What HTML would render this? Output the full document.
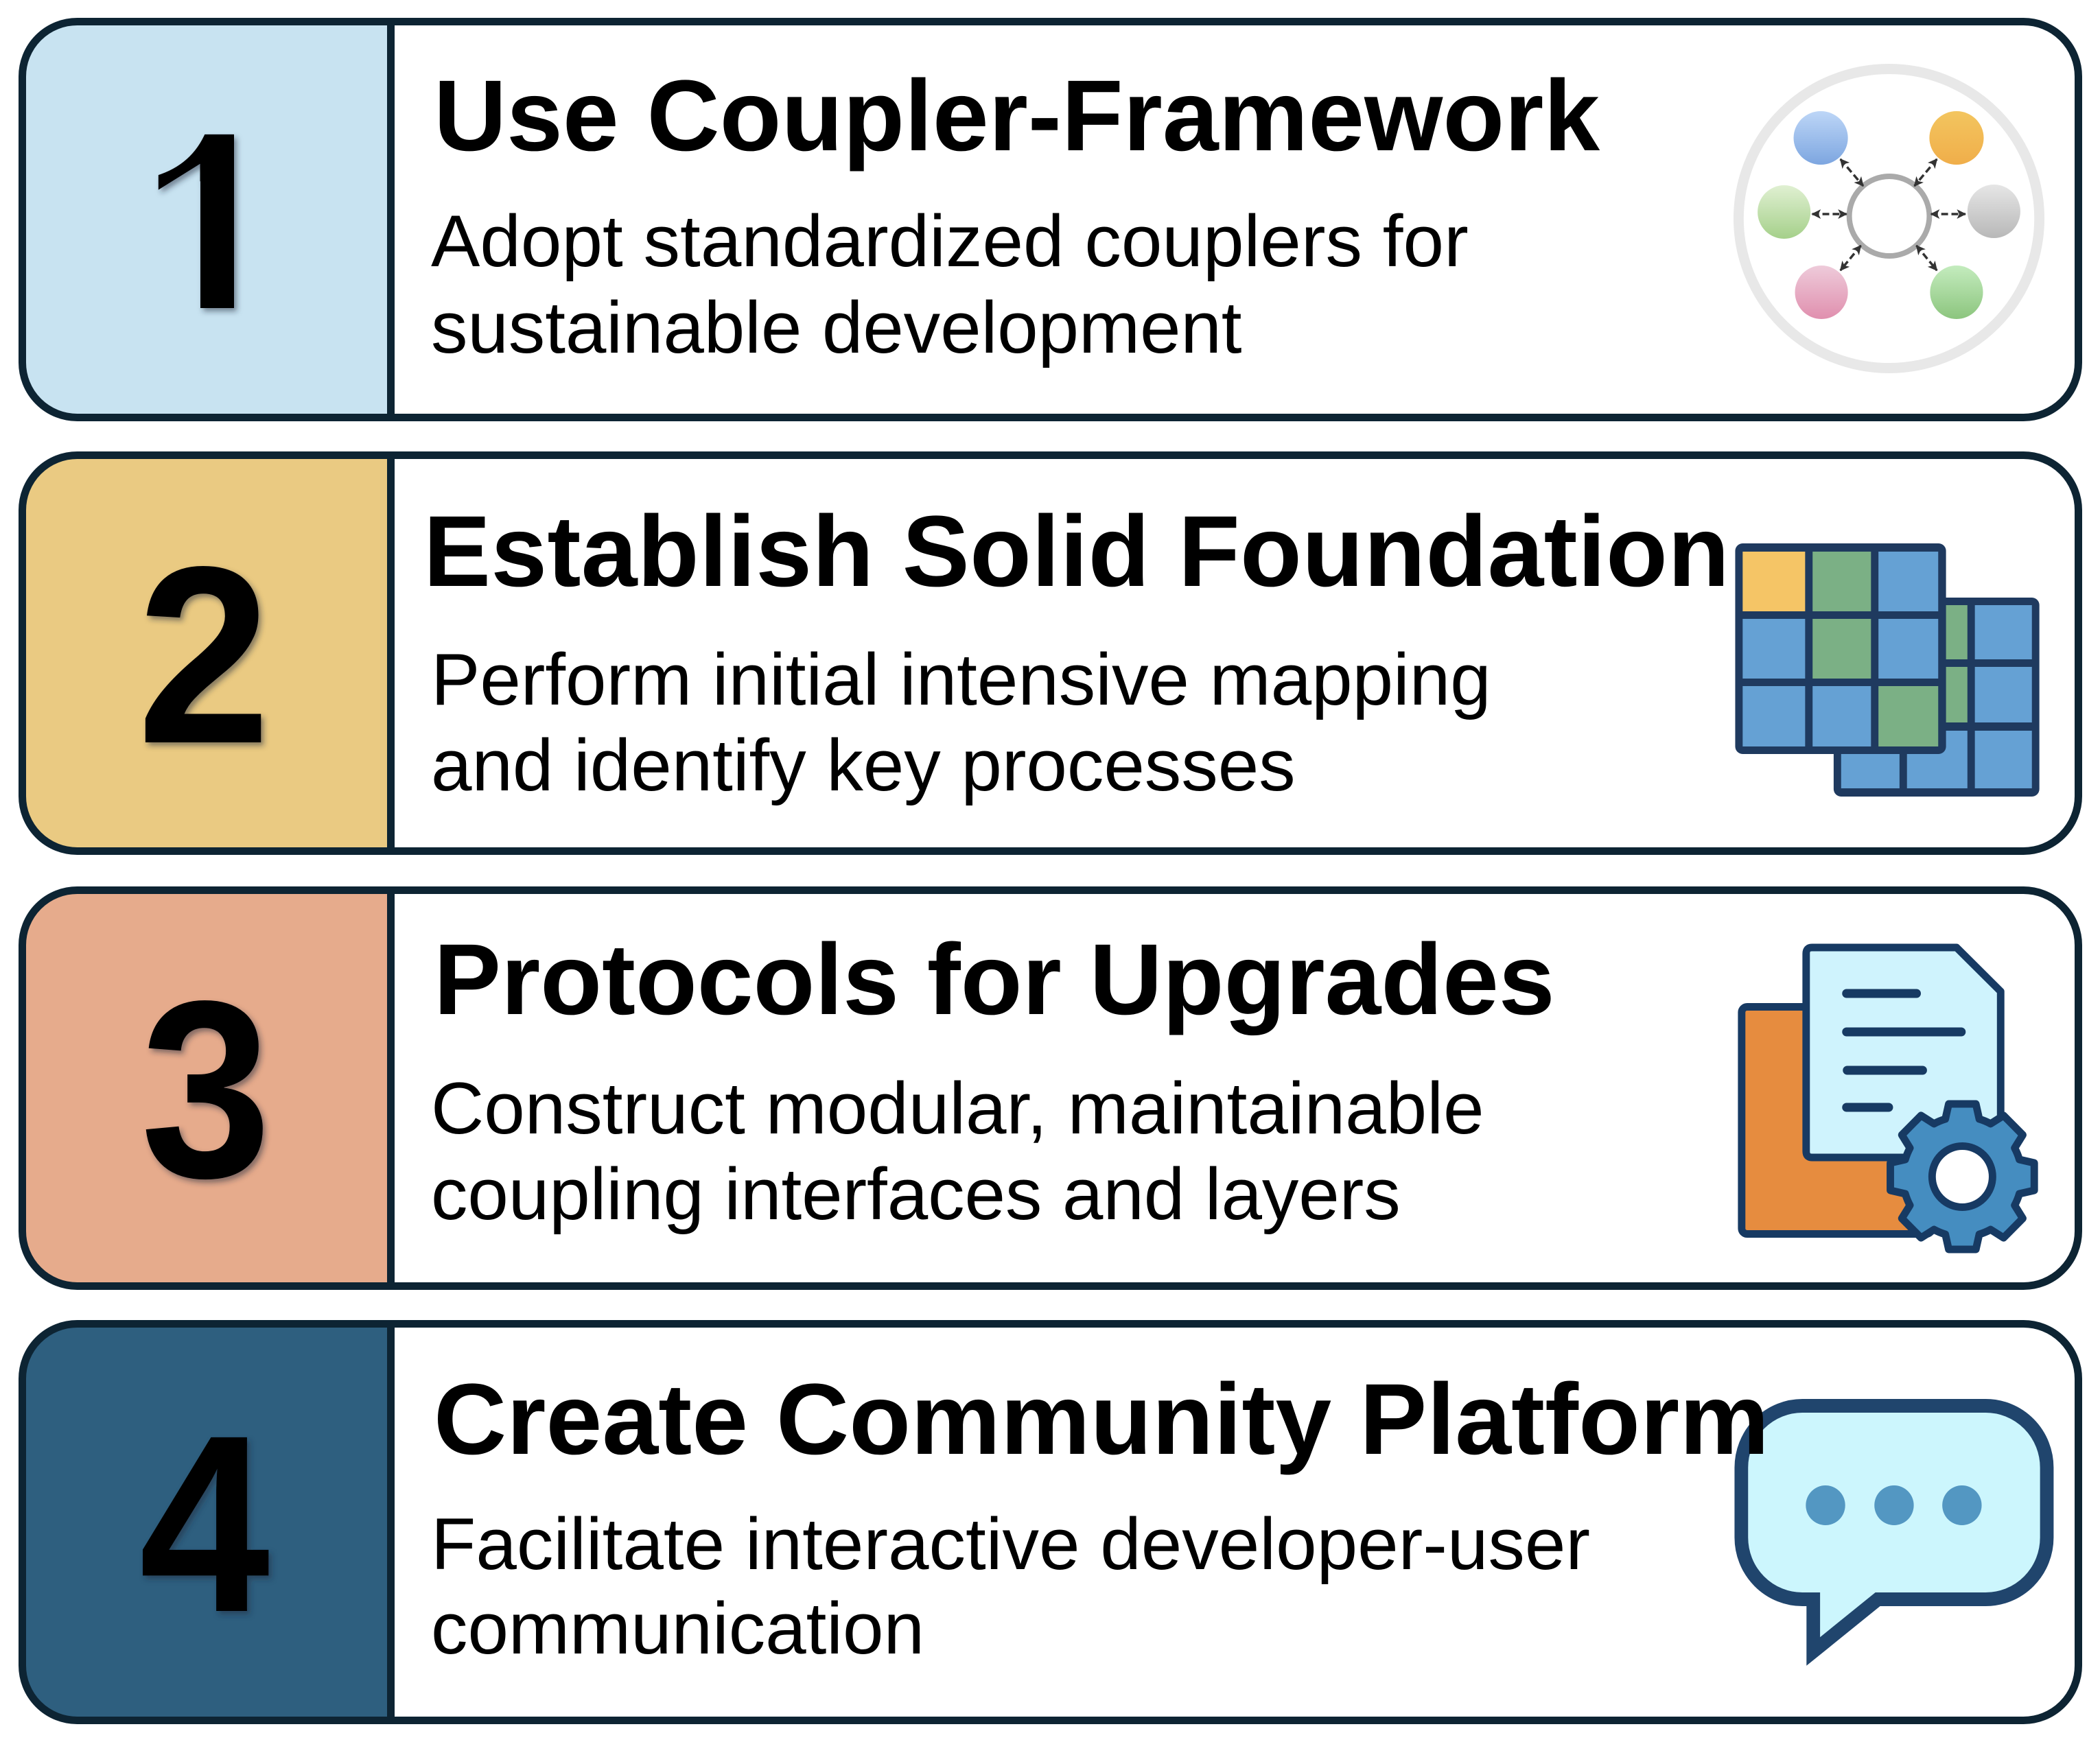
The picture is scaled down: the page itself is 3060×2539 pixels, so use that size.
<!DOCTYPE html>
<html><head><meta charset="utf-8">
<style>
html,body{margin:0;padding:0;background:#fff}
svg{display:block}
text{font-family:"Liberation Sans",Arial,sans-serif;fill:#000}
.t{font-weight:700;font-size:147px}
.d{font-size:107px}
.n{font-weight:700;font-size:368px;text-anchor:middle}
</style></head><body>
<svg width="3060" height="2539" viewBox="0 0 3060 2539" xmlns="http://www.w3.org/2000/svg">
<defs>
<filter id="sh" x="-30%" y="-30%" width="160%" height="160%"><feDropShadow dx="4" dy="5" stdDeviation="4" flood-color="#1a2a3a" flood-opacity=".5"/></filter>
<linearGradient id="g1" x1="0" y1="0" x2="0" y2="1"><stop offset="0" stop-color="#bdd6f7"/><stop offset="1" stop-color="#7da6e0"/></linearGradient>
<linearGradient id="g2" x1="0" y1="0" x2="0" y2="1"><stop offset="0" stop-color="#f3c55f"/><stop offset="1" stop-color="#f0ae4a"/></linearGradient>
<linearGradient id="g3" x1="0" y1="0" x2="0" y2="1"><stop offset="0" stop-color="#e0f0d2"/><stop offset="1" stop-color="#a5d08a"/></linearGradient>
<linearGradient id="g4" x1="0" y1="0" x2="0" y2="1"><stop offset="0" stop-color="#e6e6e6"/><stop offset="1" stop-color="#b8b8b8"/></linearGradient>
<linearGradient id="g5" x1="0" y1="0" x2="0" y2="1"><stop offset="0" stop-color="#eecbda"/><stop offset="1" stop-color="#e08fae"/></linearGradient>
<linearGradient id="g6" x1="0" y1="0" x2="0" y2="1"><stop offset="0" stop-color="#c4ecbe"/><stop offset="1" stop-color="#8cc57e"/></linearGradient>
<marker id="ah" viewBox="0 0 10 10" refX="9" refY="5" markerWidth="4" markerHeight="4" orient="auto-start-reverse" markerUnits="strokeWidth"><path d="M0 0L10 5L0 10L2.500 5Z" fill="#333"/></marker>
<clipPath id="c1"><path d="M341 192H300Q280 240 228 256V301Q270 290 292 264V449H341Z"/></clipPath>
</defs>

<!-- card panels -->
<path d="M569.500 31.500H112.500A80 80 0 0 0 32.500 111.500V528.500A80 80 0 0 0 112.500 608.500H569.500Z" fill="#c8e3f1"/>
<path d="M569.500 663.500H112.500A80 80 0 0 0 32.500 743.500V1160.500A80 80 0 0 0 112.500 1240.500H569.500Z" fill="#eaca82"/>
<path d="M569.500 1297.500H112.500A80 80 0 0 0 32.500 1377.500V1794.500A80 80 0 0 0 112.500 1874.500H569.500Z" fill="#e6ab8c"/>
<path d="M569.500 1929.500H112.500A80 80 0 0 0 32.500 2009.500V2427.500A80 80 0 0 0 112.500 2507.500H569.500Z" fill="#2e5f7f"/>
<g fill="none" stroke="#0d2433" stroke-width="11">
<rect x="32.500" y="31.500" width="2996" height="577" rx="80" ry="80"/>
<rect x="32.500" y="663.500" width="2996" height="577" rx="80" ry="80"/>
<rect x="32.500" y="1297.500" width="2996" height="577" rx="80" ry="80"/>
<rect x="32.500" y="1929.500" width="2996" height="578" rx="80" ry="80"/>
<path d="M569.500 31V609M569.500 663V1241M569.500 1297V1875M569.500 1929V2508"/>
</g>

<g transform="translate(26.500 0) scale(.9893 1)">
<!-- icon 1 -->
<ellipse cx="2755.500" cy="318.500" rx="221.500" ry="218" fill="#fff" stroke="#e8e8e8" stroke-width="15"/>
<ellipse cx="2756" cy="315" rx="59" ry="58" fill="#fff" stroke="#aaaaaa" stroke-width="8"/>
<ellipse cx="2655" cy="201" rx="40" ry="39" fill="url(#g1)"/>
<ellipse cx="2855" cy="201" rx="40" ry="39" fill="url(#g2)"/>
<ellipse cx="2601" cy="309" rx="39" ry="39" fill="url(#g3)"/>
<ellipse cx="2910" cy="308" rx="39" ry="39" fill="url(#g4)"/>
<ellipse cx="2656" cy="426" rx="39" ry="39" fill="url(#g5)"/>
<ellipse cx="2855" cy="426" rx="39" ry="39" fill="url(#g6)"/>
<g stroke="#333" stroke-width="3.500" stroke-dasharray="10 5" fill="none" marker-start="url(#ah)" marker-end="url(#ah)">
<path d="M2684 232L2717.500 271"/>
<path d="M2826 232L2793 271"/>
<path d="M2642.500 312H2693"/>
<path d="M2817.500 312H2868"/>
<path d="M2714 358L2684 394"/>
<path d="M2796 358L2826 394"/>
</g>

<!-- icon 2 -->
<rect x="2674" y="871" width="303" height="290" rx="11" fill="#1f3a5f"/>
<g fill="#65a1d4">
<rect x="2685" y="882" width="86" height="79"/><rect x="2882" y="882" width="84" height="79"/>
<rect x="2685" y="972" width="86" height="81"/><rect x="2882" y="972" width="84" height="81"/>
<rect x="2685" y="1065" width="86" height="84"/><rect x="2782" y="1065" width="89" height="84"/><rect x="2882" y="1065" width="84" height="84"/>
</g>
<rect x="2782" y="882" width="89" height="79" fill="#7bb085"/>
<rect x="2782" y="972" width="89" height="81" fill="#7bb085"/>
<rect x="2529" y="792" width="310.500" height="307" rx="11" fill="#1f3a5f"/>
<rect x="2540" y="804" width="92" height="87" fill="#f5c566"/>
<rect x="2643" y="804" width="86" height="87" fill="#7bb085"/>
<rect x="2740" y="804" width="88" height="87" fill="#65a1d4"/>
<rect x="2540" y="902" width="92" height="87" fill="#65a1d4"/>
<rect x="2643" y="902" width="86" height="87" fill="#7bb085"/>
<rect x="2740" y="902" width="88" height="87" fill="#65a1d4"/>
<rect x="2540" y="1000" width="92" height="88" fill="#65a1d4"/>
<rect x="2643" y="1000" width="86" height="88" fill="#65a1d4"/>
<rect x="2740" y="1000" width="88" height="88" fill="#7bb085"/>

<!-- icon 3 -->
<rect x="2538.500" y="1467.500" width="280" height="331" rx="8" fill="#e68c3f" stroke="#173a63" stroke-width="11"/>
<path d="M2642 1381H2855L2920 1445V1687H2642Q2633.500 1687 2633.500 1678V1390Q2633.500 1381 2642 1381Z" fill="#cff3fd" stroke="#173a63" stroke-width="11" stroke-linejoin="round"/>
<g stroke="#173a63" stroke-width="13" stroke-linecap="round" fill="none">
<path d="M2693 1448H2796"/>
<path d="M2693 1504H2862"/>
<path d="M2694 1560H2805"/>
<path d="M2693 1614H2755"/>
</g>
<g transform="translate(2863.500 1715)">
<path d="M-25 -84L-20 -106H20L25 -84A87 87 0 0 1 41.700 -77.100L60.800 -89.100L89.100 -60.800L77.100 -41.700A87 87 0 0 1 84 -25L106 -20V20L84 25A87 87 0 0 1 77.100 41.700L89.100 60.800L60.800 89.100L41.700 77.100A87 87 0 0 1 25 84L20 106H-20L-25 84A87 87 0 0 1 -41.700 77.100L-60.800 89.100L-89.100 60.800L-77.100 41.700A87 87 0 0 1 -84 25L-106 20V-20L-84 -25A87 87 0 0 1 -77.100 -41.700L-89.100 -60.800L-60.800 -89.100L-41.700 -77.100A87 87 0 0 1 -25 -84Z" fill="#458dc0" stroke="#173a63" stroke-width="11" stroke-linejoin="round"/>
<circle r="44.500" fill="#fff" stroke="#173a63" stroke-width="11"/>
</g>

<!-- icon 4 -->
<path d="M2628 2049H2898A90 90 0 0 1 2988 2139V2241A90 90 0 0 1 2898 2331H2739L2644 2407V2331H2628A90 90 0 0 1 2538 2241V2139A90 90 0 0 1 2628 2049Z" fill="#ccf6fd" stroke="#20456d" stroke-width="20"/>
<g fill="#5397c2"><circle cx="2662" cy="2194" r="29"/><circle cx="2763" cy="2194" r="29"/><circle cx="2863" cy="2194" r="29"/></g>
</g>

<!-- digits -->
<g filter="url(#sh)">
<g clip-path="url(#c1)"><text class="n" x="308" y="449">1</text></g>
<text class="n" transform="translate(297 1082) scale(.95 1)">2</text>
<text class="n" transform="translate(300 1715) scale(.93 1)">3</text>
<text class="n" transform="translate(298 2348) scale(.93 1)">4</text>
</g>

<!-- titles -->
<text class="t" x="632" y="219">Use Coupler-Framework</text>
<text class="t" x="617" y="854" textLength="1903">Establish Solid Foundation</text>
<text class="t" x="632" y="1478">Protocols for Upgrades</text>
<text class="t" x="632" y="2119" textLength="1946">Create Community Platform</text>

<!-- descriptions -->
<text class="d" x="628" y="388" style="letter-spacing:.03px">Adopt standardized couplers for</text>
<text class="d" x="628" y="514" style="letter-spacing:-.1px">sustainable development</text>
<text class="d" x="628" y="1027" style="letter-spacing:-.05px">Perform initial intensive mapping</text>
<text class="d" x="628" y="1152" style="letter-spacing:-.05px">and identify key processes</text>
<text class="d" x="628" y="1652">Construct modular, maintainable</text>
<text class="d" x="628" y="1777" style="letter-spacing:-.1px">coupling interfaces and layers</text>
<text class="d" x="628" y="2287">Facilitate interactive developer-user</text>
<text class="d" x="628" y="2410" style="letter-spacing:-.05px">communication</text>
</svg>
</body></html>
